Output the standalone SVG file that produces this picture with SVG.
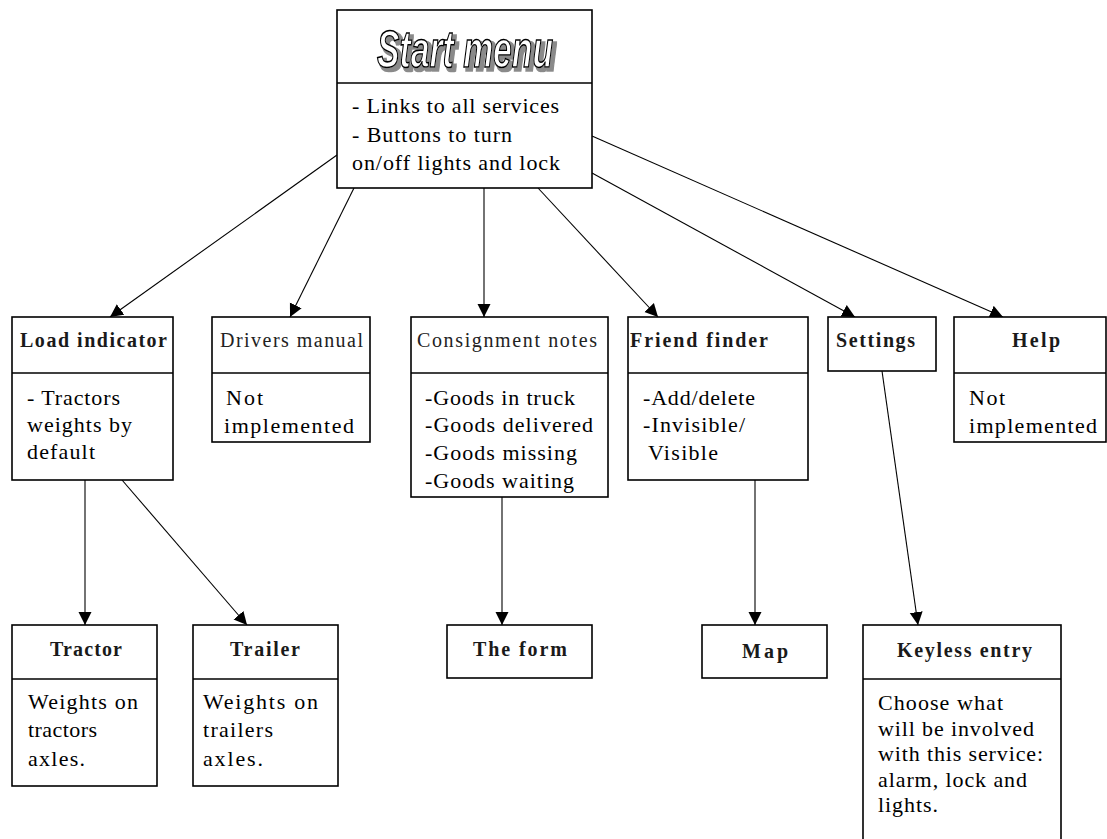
<svg xmlns="http://www.w3.org/2000/svg" width="1107" height="839" viewBox="0 0 1107 839">
<style>
.box{fill:#fff;stroke:#000;stroke-width:1.6}
.div{stroke:#000;stroke-width:1.6}
.t{font-family:"Liberation Serif","Times New Roman",serif;font-size:20px;font-weight:bold;fill:#1a1a1a}
.tr{font-family:"Liberation Serif","Times New Roman",serif;font-size:20px;fill:#222}
.b{font-family:"Liberation Serif","Times New Roman",serif;font-size:22px;fill:#000}
.c{stroke:#000;stroke-width:1.1;fill:none;marker-end:url(#ah)}
.title{font-family:"Liberation Sans",Arial,sans-serif;font-size:52px;font-weight:bold;font-style:italic;fill:#fff;stroke:#000;stroke-width:1.6}
</style>
<defs>
<marker id="ah" markerUnits="userSpaceOnUse" markerWidth="14" markerHeight="14" refX="13" refY="6.5" orient="auto" viewBox="0 0 14 13">
<path d="M0,0 L13,6.5 L0,13 z" fill="#000"/>
</marker>
<filter id="shadow" x="-10%" y="-20%" width="120%" height="150%">
<feMorphology in="SourceAlpha" operator="dilate" radius="0.5" result="d"/>
<feOffset in="d" dx="3" dy="3" result="o"/>
<feFlood flood-color="#8a8a8a"/>
<feComposite in2="o" operator="in" result="s"/>
<feMerge><feMergeNode in="s"/><feMergeNode in="SourceGraphic"/></feMerge>
</filter>
</defs>
<rect width="1107" height="839" fill="#fff"/>

<g id="connectors">
<line class="c" x1="337" y1="155" x2="110" y2="317"/>
<line class="c" x1="354" y1="188" x2="290" y2="317"/>
<line class="c" x1="484" y1="188" x2="484" y2="317"/>
<line class="c" x1="538" y1="188" x2="658" y2="317"/>
<line class="c" x1="592" y1="173" x2="855" y2="317"/>
<line class="c" x1="592" y1="136" x2="1003" y2="317"/>
<line class="c" x1="85" y1="480" x2="85" y2="625"/>
<line class="c" x1="122" y1="480" x2="247" y2="625"/>
<line class="c" x1="502" y1="497" x2="502" y2="625"/>
<line class="c" x1="755" y1="480" x2="755" y2="625"/>
<line class="c" x1="882" y1="371" x2="918" y2="625"/>
</g>

<g id="start-menu">
<rect class="box" x="337" y="10" width="255" height="178"/>
<line class="div" x1="337" y1="83" x2="592" y2="83"/>
<text class="title" x="377" y="67" textLength="176" lengthAdjust="spacingAndGlyphs" filter="url(#shadow)">Start menu</text>
<text class="b" x="352" y="113" textLength="207">- Links to all services</text>
<text class="b" x="352" y="142" textLength="160">- Buttons to turn</text>
<text class="b" x="352" y="170" textLength="208">on/off lights and lock</text>
</g>

<g id="load-indicator">
<rect class="box" x="12" y="317" width="161" height="163"/>
<line class="div" x1="12" y1="373" x2="173" y2="373"/>
<text class="t" x="20" y="347" textLength="147">Load indicator</text>
<text class="b" x="27" y="405" textLength="93">- Tractors</text>
<text class="b" x="27" y="432" textLength="105">weights by</text>
<text class="b" x="27" y="459" textLength="68">default</text>
</g>

<g id="drivers-manual">
<rect class="box" x="212" y="317" width="158" height="125"/>
<line class="div" x1="212" y1="373" x2="370" y2="373"/>
<text class="tr" x="220" y="347" textLength="143">Drivers manual</text>
<text class="b" x="226" y="405" textLength="37">Not</text>
<text class="b" x="224" y="433" textLength="130">implemented</text>
</g>

<g id="consignment-notes">
<rect class="box" x="411" y="317" width="197" height="180"/>
<line class="div" x1="411" y1="373" x2="608" y2="373"/>
<text class="tr" x="417" y="347" textLength="180">Consignment notes</text>
<text class="b" x="425" y="405" textLength="150">-Goods in truck</text>
<text class="b" x="425" y="432" textLength="168">-Goods delivered</text>
<text class="b" x="425" y="460" textLength="152">-Goods missing</text>
<text class="b" x="425" y="488" textLength="149">-Goods waiting</text>
</g>

<g id="friend-finder">
<rect class="box" x="628" y="317" width="180" height="163"/>
<line class="div" x1="628" y1="373" x2="808" y2="373"/>
<text class="t" x="630" y="347" textLength="138">Friend finder</text>
<text class="b" x="643" y="405" textLength="112">-Add/delete</text>
<text class="b" x="643" y="432" textLength="102">-Invisible/</text>
<text class="b" x="648" y="460" textLength="70">Visible</text>
</g>

<g id="settings">
<rect class="box" x="828" y="317" width="108" height="54"/>
<text class="t" x="836" y="347" textLength="79">Settings</text>
</g>

<g id="help">
<rect class="box" x="954" y="317" width="152" height="125"/>
<line class="div" x1="954" y1="373" x2="1106" y2="373"/>
<text class="t" x="1012" y="347" textLength="48">Help</text>
<text class="b" x="969" y="405" textLength="36">Not</text>
<text class="b" x="969" y="433" textLength="128">implemented</text>
</g>

<g id="tractor">
<rect class="box" x="12" y="625" width="145" height="161"/>
<line class="div" x1="12" y1="679" x2="157" y2="679"/>
<text class="t" x="50" y="656" textLength="72">Tractor</text>
<text class="b" x="28" y="709" textLength="110">Weights on</text>
<text class="b" x="28" y="737" textLength="69">tractors</text>
<text class="b" x="28" y="766" textLength="57">axles.</text>
</g>

<g id="trailer">
<rect class="box" x="193" y="625" width="145" height="161"/>
<line class="div" x1="193" y1="679" x2="338" y2="679"/>
<text class="t" x="230" y="656" textLength="70">Trailer</text>
<text class="b" x="203" y="709" textLength="115">Weights on</text>
<text class="b" x="203" y="737" textLength="70">trailers</text>
<text class="b" x="203" y="766" textLength="60">axles.</text>
</g>

<g id="the-form">
<rect class="box" x="447" y="625" width="145" height="53"/>
<text class="t" x="473" y="656" textLength="94">The form</text>
</g>

<g id="map">
<rect class="box" x="702" y="625" width="125" height="53"/>
<text class="t" x="742" y="658" textLength="46">Map</text>
</g>

<g id="keyless-entry">
<rect class="box" x="863" y="625" width="198" height="225"/>
<line class="div" x1="863" y1="679" x2="1061" y2="679"/>
<text class="t" x="897" y="657" textLength="135">Keyless entry</text>
<text class="b" x="878" y="710" textLength="125">Choose what</text>
<text class="b" x="878" y="736" textLength="156">will be involved</text>
<text class="b" x="878" y="761" textLength="165">with this service:</text>
<text class="b" x="878" y="787" textLength="149">alarm, lock and</text>
<text class="b" x="878" y="812" textLength="60">lights.</text>
</g>
</svg>
